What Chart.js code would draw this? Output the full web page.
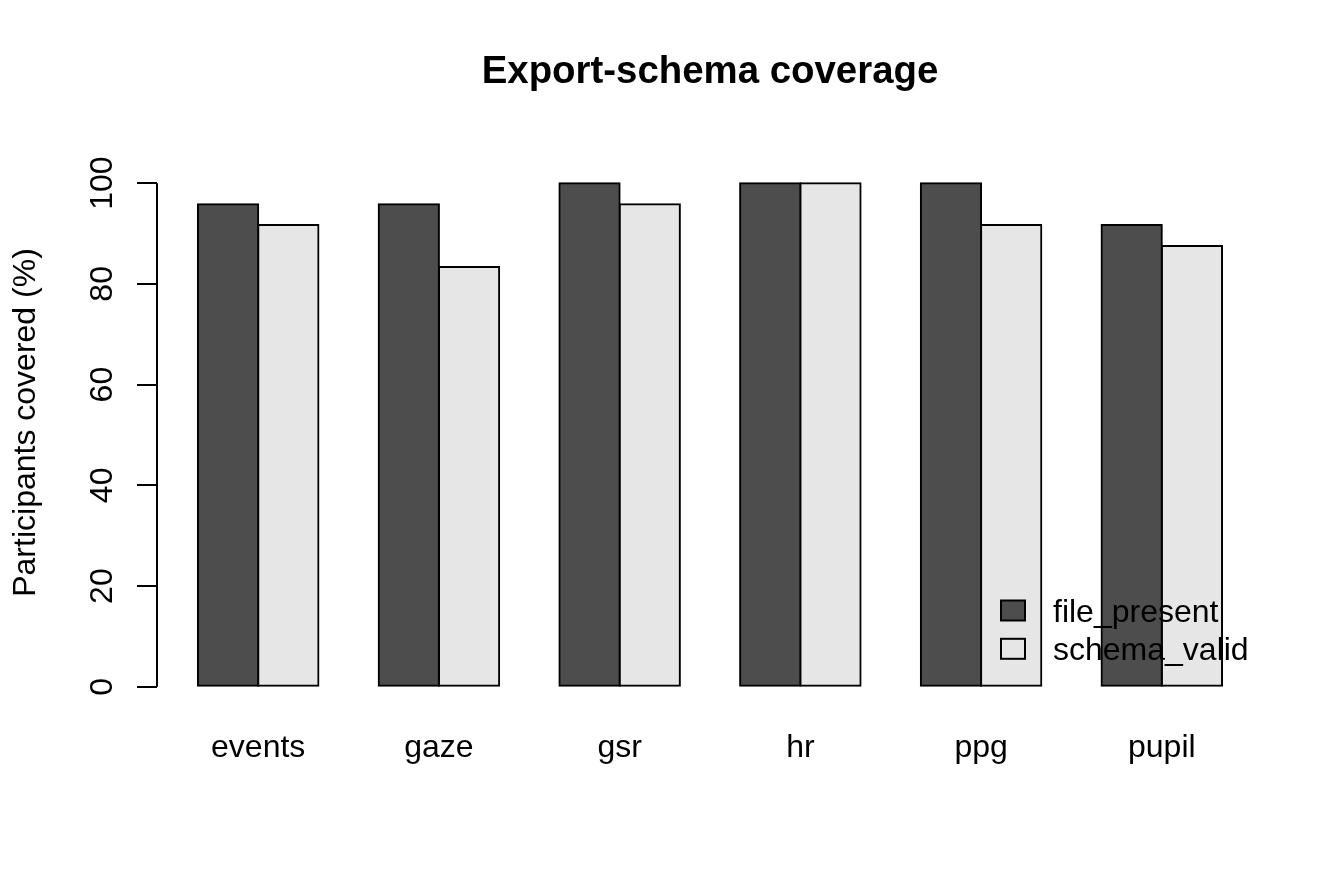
<!DOCTYPE html>
<html>
<head>
<meta charset="utf-8">
<title>Export-schema coverage</title>
<script src="https://cdn.jsdelivr.net/npm/chart.js@4/dist/chart.umd.min.js"></script>
<style>
  html, body { margin: 0; padding: 0; background: #fff; }
  #wrap { width: 1344px; height: 883px; }
</style>
</head>
<body>
<div id="wrap"><canvas id="chart" width="1344" height="883"></canvas></div>
<script>
////////////
//// Data

let categories = ['events', 'gaze', 'gsr', 'hr', 'ppg', 'pupil'];
let filePresent = [95.83, 95.83, 100, 100, 100, 91.67];
let schemaValid = [91.67, 83.33, 95.83, 100, 91.67, 87.5];
let seriesNames = ['file_present', 'schema_valid'];
let yTicks = [0, 20, 40, 60, 80, 100];
let yTitle = 'Participants covered (%)';

let COLORS = ['#4D4D4D', '#E6E6E6'];
let FONT = '"Liberation Sans", Arial, Helvetica, sans-serif';

////////////
//// Helpers

// R barplot(beside=TRUE): each group is 2 bars + 1 space, so 3 units wide
function groupCenter(i) {
	return 3 * i + 2;
}

function toPoints(values) {
	return values.map((v, i) => ({ x: groupCenter(i), y: v }));
}

// rotated y tick labels + y title, the axis line from 0 to 100, and the legend
let rStylePlugin = {
	id: 'rStyle',
	afterDraw(chart) {
		let ctx = chart.ctx;
		let y = chart.scales.y;
		let area = chart.chartArea;

		ctx.save();
		ctx.strokeStyle = '#000';
		ctx.lineWidth = 2;
		ctx.beginPath();
		ctx.moveTo(area.left, y.getPixelForValue(yTicks[0]));
		ctx.lineTo(area.left, y.getPixelForValue(yTicks[yTicks.length - 1]));
		ctx.stroke();

		ctx.fillStyle = '#000';
		ctx.font = '32px ' + FONT;
		ctx.textAlign = 'center';
		ctx.textBaseline = 'alphabetic';
		y.ticks.forEach(t => {
			ctx.save();
			ctx.translate(area.left - 45.5, y.getPixelForValue(t.value));
			ctx.rotate(-Math.PI / 2);
			ctx.fillText(String(t.value), 0, 0);
			ctx.restore();
		});

		// axis title
		ctx.save();
		ctx.translate(area.left - 122, (area.top + area.bottom) / 2 - 12.5);
		ctx.rotate(-Math.PI / 2);
		ctx.fillText(yTitle, 0, 0);
		ctx.restore();

		// legend, no frame
		let lx = area.right - 262;
		let ly = area.bottom - 96.5;
		ctx.textAlign = 'left';
		chart.data.datasets.forEach((ds, i) => {
			let cy = ly + i * 38.3;
			ctx.fillStyle = ds.backgroundColor;
			ctx.fillRect(lx, cy - 10, 24, 20);
			ctx.strokeRect(lx, cy - 10, 24, 20);
			ctx.fillStyle = '#000';
			ctx.fillText(ds.label, lx + 52, cy + 11.3);
		});
		ctx.restore();
	}
};

////////////
//// Chart

Chart.defaults.color = '#000';
Chart.defaults.font.family = FONT;

let datasets = [filePresent, schemaValid].map((vals, i) => ({
	label: seriesNames[i],
	data: toPoints(vals),
	backgroundColor: COLORS[i],
	borderColor: '#000',
	borderWidth: 2,
	borderSkipped: false,
	inflateAmount: 1,
	categoryPercentage: 2 / 3,
	barPercentage: 1
}));

let ctx = document.getElementById('chart').getContext('2d');
let chart = new Chart(ctx, {
	type: 'bar',
	data: { datasets: datasets },
	plugins: [rStylePlugin],
	options: {
		responsive: false,
		animation: false,
		layout: { padding: { left: 0, right: 81, top: 0, bottom: 0 } },
		plugins: {
			legend: { display: false },
			tooltip: { enabled: false },
			title: {
				display: true,
				fullSize: false,
				text: 'Export-schema coverage',
				color: '#000',
				font: { size: 38.4, weight: 'bold' },
				padding: { top: 49.5, bottom: 67.4 }
			}
		},
		scales: {
			x: {
				type: 'linear',
				min: 0.32,
				max: 18.68,
				offset: false,
				grid: { display: false, drawTicks: false },
				border: { display: false },
				ticks: {
					font: { size: 32 },
					padding: 22.2,
					autoSkip: false,
					maxRotation: 0,
					callback: (v, i) => categories[i]
				},
				afterBuildTicks: axis => {
					axis.ticks = categories.map((c, i) => ({ value: groupCenter(i) }));
				},
				afterFit: axis => { axis.height = 176; }
			},
			y: {
				min: -4,
				max: 104,
				border: { display: false },
				grid: {
					display: true,
					drawOnChartArea: false,
					drawTicks: true,
					tickLength: 20,
					color: '#000',
					lineWidth: 2
				},
				ticks: { display: false },
				afterBuildTicks: axis => {
					axis.ticks = yTicks.map(v => ({ value: v }));
				},
				afterFit: axis => { axis.width = 157; }
			}
		}
	}
});
</script>
</body>
</html>
